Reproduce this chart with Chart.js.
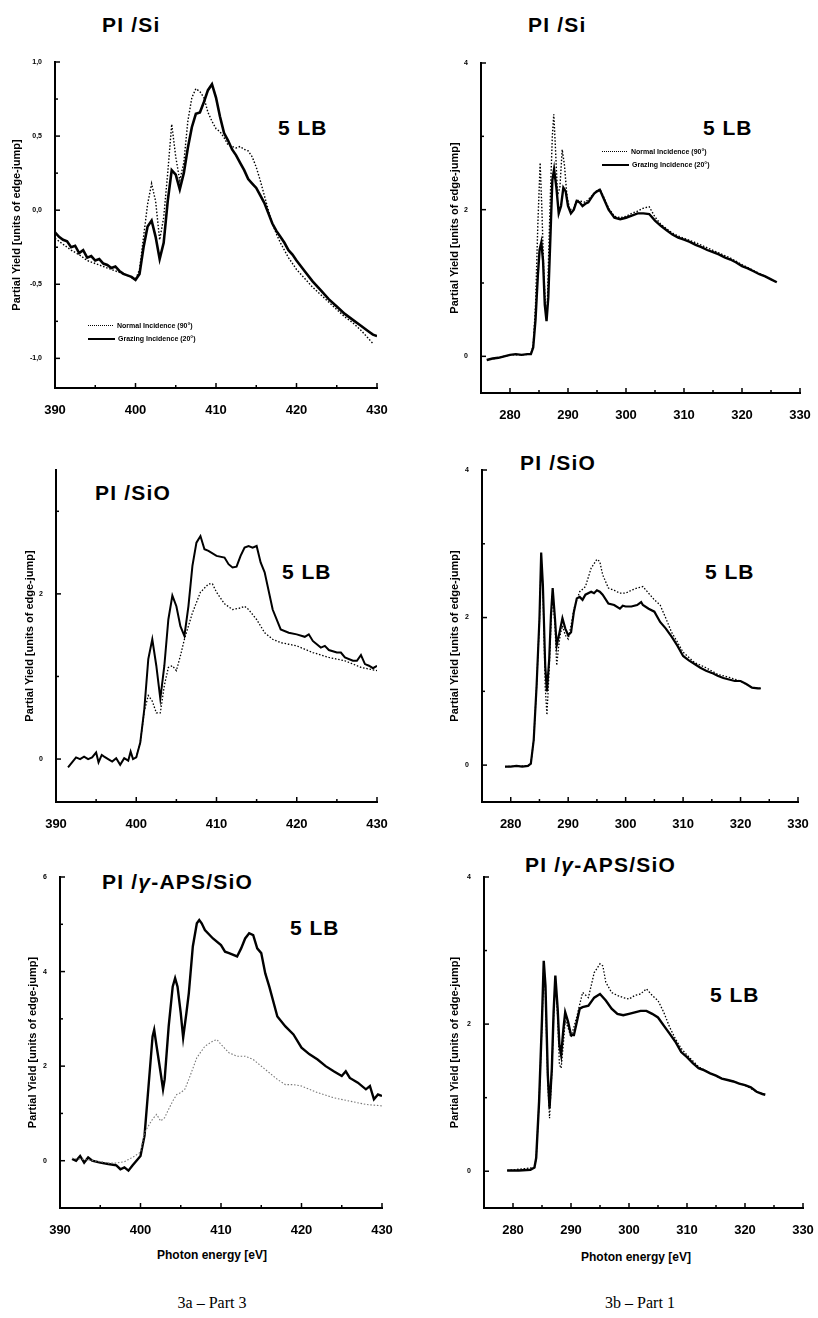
<!DOCTYPE html>
<html>
<head>
<meta charset="utf-8">
<script src="https://cdn.jsdelivr.net/npm/chart.js@4.4.0/dist/chart.umd.min.js"></script>
<style>
  body { margin: 0; background: #fff; width: 818px; height: 1318px; position: relative; overflow: hidden;
         font-family: "Liberation Sans", Arial, sans-serif; color: #000; }
  canvas { position: absolute; }
  .t { position: absolute; white-space: nowrap; line-height: 1; }
  .title { font-size: 21px; font-weight: bold; letter-spacing: 1.2px; }
  .lb { font-size: 21px; font-weight: bold; letter-spacing: 1px; }
  .xt { font-size: 12px; font-weight: bold; transform: translateX(-50%); }
  .cap { font-family: "Liberation Serif", "DejaVu Serif", serif; font-size: 16px; transform: translateX(-50%); }
  .leg { font-size: 7px; font-weight: bold; will-change: transform; }
  .leg div { height: 13px; display: flex; align-items: center; }
  .ds { display: inline-block; width: 25px; border-top: 1.5px dotted #000; margin-right: 4px; }
  .ss { display: inline-block; width: 27px; border-top: 2px solid #000; margin-right: 3px; }
</style>
</head>
<body>
<div class="t title" style="left:102px;top:14px">PI /Si</div>
<div class="t title" style="left:528px;top:14px">PI /Si</div>
<div class="t title" style="left:95px;top:482px">PI /SiO</div>
<div class="t title" style="left:520px;top:452px">PI /SiO</div>
<div class="t title" style="left:102px;top:871px">PI /<i>γ</i>-APS/SiO</div>
<div class="t title" style="left:525px;top:854px">PI /<i>γ</i>-APS/SiO</div>

<div class="t lb" style="left:278px;top:117px">5 LB</div>
<div class="t lb" style="left:703px;top:117px">5 LB</div>
<div class="t lb" style="left:282px;top:561px">5 LB</div>
<div class="t lb" style="left:705px;top:561px">5 LB</div>
<div class="t lb" style="left:290px;top:917px">5 LB</div>
<div class="t lb" style="left:710px;top:984px">5 LB</div>

<div class="t leg" style="left:88px;top:319px">
  <div><span class="ds"></span>Normal Incidence (90°)</div>
  <div><span class="ss"></span>Grazing Incidence (20°)</div>
</div>
<div class="t leg" style="left:602px;top:145px">
  <div><span class="ds"></span>Normal Incidence (90°)</div>
  <div><span class="ss"></span>Grazing Incidence (20°)</div>
</div>

<div class="t xt" style="left:212px;top:1249px">Photon energy [eV]</div>
<div class="t xt" style="left:636px;top:1251px">Photon energy [eV]</div>
<div class="t cap" style="left:212px;top:1295px">3a – Part 3</div>
<div class="t cap" style="left:640px;top:1295px">3b – Part 1</div>

<script>
// ---- data: [photon energy (eV), partial yield] ----
// left column, N K-edge region
const siNormalN = [[390,-0.19],[391,-0.23],[392,-0.27],[393,-0.30],[394,-0.34],[395,-0.36],[396,-0.38],[397,-0.40],[398,-0.42],[399,-0.44],[400,-0.47],[400.5,-0.40],[401,-0.18],[401.5,0.04],[402,0.18],[402.5,0.06],[403,-0.20],[403.5,-0.05],[404,0.25],[404.5,0.58],[405,0.36],[405.5,0.20],[406,0.32],[406.5,0.60],[407,0.76],[407.5,0.82],[408,0.80],[408.5,0.76],[409,0.66],[409.5,0.60],[410,0.55],[410.5,0.53],[411,0.49],[411.5,0.44],[412,0.43],[412.5,0.42],[413,0.43],[413.5,0.41],[414,0.40],[414.5,0.36],[415,0.29],[415.5,0.20],[416,0.10],[416.5,0.0],[417,-0.09],[417.5,-0.16],[418,-0.22],[419,-0.32],[420,-0.40],[421,-0.46],[422,-0.52],[423,-0.57],[424,-0.62],[425,-0.67],[426,-0.72],[427,-0.76],[428,-0.81],[429,-0.87],[429.5,-0.90]];
const siGrazingN = [[390,-0.15],[390.5,-0.18],[391,-0.20],[391.5,-0.21],[392,-0.25],[392.5,-0.24],[393,-0.29],[393.5,-0.27],[394,-0.32],[394.5,-0.31],[395,-0.34],[395.5,-0.33],[396,-0.36],[396.5,-0.37],[397,-0.39],[397.5,-0.38],[398,-0.41],[398.5,-0.43],[399,-0.44],[399.5,-0.45],[400,-0.47],[400.5,-0.43],[401,-0.25],[401.5,-0.11],[402,-0.07],[402.5,-0.18],[403,-0.33],[403.5,-0.22],[404,0.06],[404.5,0.27],[405,0.24],[405.5,0.14],[406,0.25],[406.5,0.42],[407,0.56],[407.5,0.65],[408,0.66],[408.5,0.73],[409,0.81],[409.5,0.85],[410,0.76],[410.5,0.63],[411,0.52],[411.5,0.47],[412,0.41],[412.5,0.37],[413,0.32],[413.5,0.27],[414,0.21],[414.5,0.18],[415,0.15],[415.5,0.10],[416,0.05],[416.5,-0.02],[417,-0.09],[417.5,-0.14],[418,-0.18],[418.5,-0.22],[419,-0.27],[419.5,-0.30],[420,-0.34],[421,-0.41],[422,-0.48],[423,-0.54],[424,-0.60],[425,-0.65],[426,-0.70],[427,-0.74],[428,-0.78],[429,-0.82],[429.5,-0.84],[430,-0.85]];

const sioNormalN = [[400,0.02],[400.5,0.2],[401,0.58],[401.5,0.77],[402,0.7],[402.5,0.56],[403,0.56],[403.5,0.89],[404,1.11],[404.5,1.13],[405,1.07],[405.5,1.25],[406,1.45],[407,1.77],[408,2.02],[409,2.12],[409.5,2.12],[410,2.02],[411,1.88],[412,1.81],[413,1.83],[413.5,1.85],[414,1.81],[415,1.69],[416,1.53],[417,1.45],[418,1.41],[419,1.39],[420,1.37],[422,1.29],[424,1.23],[426,1.19],[428,1.11],[430,1.07]];
const sioGrazingN = [[391.5,-0.1],[392,-0.04],[392.5,0.02],[393,0.0],[393.5,0.03],[394,0.0],[394.5,0.02],[395,0.08],[395.3,-0.04],[395.7,0.05],[396,0.03],[396.5,0.0],[397,-0.03],[397.5,0.01],[398,-0.07],[398.5,0.01],[399,-0.02],[399.3,0.09],[399.6,0.0],[400,0.02],[400.5,0.2],[401,0.6],[401.5,1.21],[402,1.45],[402.5,1.13],[403,0.73],[403.5,1.13],[404,1.69],[404.5,1.98],[405,1.85],[405.5,1.61],[406,1.49],[406.5,1.85],[407,2.34],[407.5,2.62],[408,2.7],[408.5,2.54],[409,2.52],[410,2.46],[411,2.44],[411.5,2.36],[412,2.32],[412.5,2.33],[413,2.46],[413.5,2.56],[414,2.58],[414.5,2.56],[415,2.58],[415.5,2.38],[416,2.26],[417,1.81],[418,1.57],[419,1.53],[420,1.51],[421,1.48],[421.5,1.51],[422,1.43],[423,1.35],[423.5,1.37],[424,1.32],[425,1.29],[425.5,1.29],[426,1.23],[427,1.19],[427.5,1.19],[428,1.26],[428.5,1.15],[429,1.13],[429.5,1.1],[430,1.13]];

const apsNormalN = [[391.5,0.05],[393,0.03],[395,-0.02],[396,-0.05],[397,-0.05],[398,-0.02],[399,0.07],[400,0.18],[400.5,0.6],[401,0.74],[401.5,0.88],[402,0.98],[402.5,0.84],[403,0.91],[403.5,1.09],[404,1.26],[404.5,1.4],[405,1.44],[405.5,1.51],[406,1.72],[407,2.18],[408,2.42],[409,2.53],[409.5,2.56],[410,2.46],[411,2.28],[412,2.21],[413,2.21],[414,2.14],[415,2.0],[416,1.86],[417,1.72],[418,1.61],[419,1.61],[420,1.58],[422,1.44],[424,1.33],[426,1.26],[428,1.19],[430,1.16]];
const apsGrazingN = [[391.5,0.04],[392,0.0],[392.5,0.1],[393,-0.04],[393.5,0.07],[394,0.0],[395,-0.04],[396,-0.07],[397,-0.1],[397.5,-0.18],[398,-0.14],[398.5,-0.21],[399,-0.1],[399.5,0.0],[400,0.1],[400.5,0.53],[401,1.58],[401.5,2.63],[401.7,2.77],[402,2.42],[402.5,1.86],[402.8,1.51],[403,1.72],[403.5,2.84],[404,3.68],[404.3,3.86],[404.6,3.68],[405,3.12],[405.3,2.6],[405.7,3.12],[406,3.54],[406.5,4.53],[407,5.02],[407.3,5.09],[407.6,5.02],[408,4.88],[409,4.7],[410,4.56],[410.5,4.42],[411,4.39],[412,4.32],[412.5,4.49],[413,4.7],[413.5,4.81],[414,4.77],[414.5,4.49],[415,4.39],[415.5,3.96],[416,3.68],[417,3.05],[418,2.84],[419,2.67],[420,2.39],[421,2.25],[422,2.14],[423,2.0],[424,1.89],[425,1.79],[425.5,1.89],[426,1.75],[427,1.65],[428,1.51],[428.5,1.58],[429,1.3],[429.5,1.4],[430,1.37]];

// right column, C K-edge region
const siNormalC = [[276,-0.05],[278,-0.02],[280,0.02],[282,0.02],[283.6,0.03],[284,0.15],[284.4,0.7],[284.8,1.8],[285.2,2.64],[285.5,2.0],[285.8,1.2],[286.1,0.7],[286.4,0.6],[286.7,1.5],[287,2.3],[287.3,3.0],[287.55,3.3],[287.8,2.9],[288.2,2.2],[288.6,2.3],[289,2.82],[289.4,2.6],[289.8,2.2],[290.3,2.0],[291,2.02],[291.5,2.13],[292,2.12],[293,2.1],[294,2.18],[295,2.26],[295.5,2.28],[296,2.2],[297,2.02],[298,1.91],[299,1.89],[300,1.91],[301,1.95],[302,1.98],[303,2.02],[304,2.04],[305,1.9],[306,1.8],[307,1.74],[308,1.68],[309,1.64],[310,1.61],[312,1.55],[314,1.48],[316,1.41],[318,1.34],[320,1.25],[322,1.17],[324,1.09],[326,1.01]];
const siGrazingC = [[276,-0.05],[277,-0.03],[278,-0.02],[279,0.0],[280,0.02],[281,0.03],[282,0.02],[283,0.03],[283.6,0.03],[284,0.12],[284.4,0.5],[284.8,1.1],[285.1,1.45],[285.4,1.55],[285.7,1.3],[286,0.7],[286.3,0.48],[286.6,0.8],[287,1.7],[287.3,2.4],[287.6,2.55],[288,2.3],[288.4,1.95],[288.8,2.05],[289.2,2.3],[289.6,2.25],[290,2.05],[290.5,1.95],[291,2.0],[291.5,2.12],[292,2.1],[292.5,2.05],[293,2.08],[293.5,2.1],[294,2.16],[294.5,2.22],[295,2.25],[295.5,2.27],[296,2.18],[297,2.0],[298,1.89],[299,1.87],[300,1.89],[301,1.92],[302,1.95],[303,1.95],[304,1.94],[305,1.85],[306,1.78],[307,1.72],[308,1.66],[309,1.62],[310,1.59],[311,1.56],[312,1.52],[313,1.49],[314,1.45],[315,1.42],[316,1.39],[317,1.35],[318,1.32],[319,1.28],[320,1.23],[321,1.2],[322,1.16],[323,1.12],[324,1.09],[325,1.05],[326,1.01]];

const sioNormalC = [[279,-0.02],[283,-0.01],[283.5,0.02],[284,0.34],[284.5,1.07],[285,1.95],[285.3,2.8],[285.6,2.4],[286,1.07],[286.3,0.68],[286.7,1.3],[287,1.89],[287.3,2.31],[287.7,1.89],[288,1.35],[288.3,1.58],[288.6,1.76],[289,1.89],[289.5,1.76],[290,1.71],[290.5,1.89],[291,2.12],[292,2.35],[293,2.42],[294,2.67],[295,2.79],[295.5,2.76],[296,2.58],[297,2.4],[298,2.37],[299,2.33],[300,2.33],[301,2.37],[302,2.4],[303,2.42],[304,2.33],[305,2.24],[306,2.17],[307,1.99],[308,1.8],[309,1.67],[310,1.53],[312,1.39],[314,1.32],[316,1.23],[318,1.19],[320,1.14],[322,1.05],[323.5,1.04]];
const sioGrazingC = [[279,-0.02],[280,-0.02],[281,-0.01],[282,-0.02],[283,-0.01],[283.5,0.02],[284,0.34],[284.5,1.07],[285,1.99],[285.3,2.88],[285.6,2.44],[286,1.35],[286.3,1.0],[286.7,1.44],[287,2.03],[287.3,2.4],[287.7,1.99],[288,1.62],[288.5,1.8],[289,1.99],[289.5,1.85],[290,1.76],[290.5,1.8],[291,2.08],[291.5,2.26],[292,2.28],[292.5,2.24],[293,2.31],[294,2.35],[294.5,2.33],[295,2.37],[295.5,2.35],[296,2.31],[297,2.19],[298,2.17],[299,2.12],[299.5,2.16],[300,2.15],[301,2.15],[302,2.17],[302.7,2.21],[303,2.17],[304,2.12],[305,2.08],[306,1.94],[307,1.85],[308,1.74],[309,1.62],[310,1.48],[311,1.42],[312,1.37],[313,1.32],[314,1.28],[315,1.25],[316,1.21],[317,1.18],[318,1.16],[319,1.14],[320,1.14],[321,1.1],[322,1.05],[323,1.04],[323.5,1.04]];

const apsNormalC = [[279,0.01],[283.7,0.05],[284,0.18],[284.5,0.95],[285,2.0],[285.3,2.8],[285.6,2.4],[286,1.2],[286.3,0.72],[286.7,1.35],[287,2.1],[287.3,2.6],[287.7,2.1],[288,1.45],[288.3,1.4],[288.7,1.75],[289,2.05],[289.5,1.95],[290,1.82],[291,2.1],[292,2.43],[293,2.36],[294,2.7],[295,2.82],[295.5,2.79],[296,2.57],[297,2.43],[298,2.39],[299,2.36],[300,2.34],[301,2.39],[302,2.41],[303,2.48],[304,2.39],[305,2.32],[306,2.16],[307,1.96],[308,1.8],[309,1.67],[310,1.58],[312,1.42],[314,1.33],[316,1.26],[318,1.22],[320,1.17],[322,1.08],[323.5,1.04]];
const apsGrazingC = [[279,0.01],[281,0.01],[283,0.02],[283.7,0.05],[284,0.18],[284.5,0.95],[285,2.07],[285.3,2.86],[285.6,2.52],[286,1.31],[286.3,0.86],[286.7,1.4],[287,2.16],[287.3,2.66],[287.7,2.21],[288,1.71],[288.3,1.58],[288.7,1.94],[289,2.16],[289.5,2.03],[290,1.85],[290.5,1.85],[291,2.03],[291.5,2.21],[292,2.23],[293,2.25],[294,2.36],[295,2.41],[296,2.32],[297,2.21],[298,2.14],[299,2.12],[300,2.14],[301,2.16],[302,2.18],[303,2.18],[304,2.14],[305,2.09],[306,1.98],[307,1.87],[308,1.76],[309,1.62],[310,1.55],[311,1.47],[312,1.4],[313,1.37],[314,1.33],[315,1.3],[316,1.26],[317,1.24],[318,1.22],[319,1.19],[320,1.17],[321,1.14],[322,1.08],[323,1.05],[323.5,1.04]];

const yTitle = 'Partial Yield [units of edge-jump]';
const FONT = '"Liberation Sans", Arial, sans-serif';

const onStep = (v, step) => Math.abs(v / step - Math.round(v / step)) < 1e-6;

// small tick marks drawn inward, like the original plot
const inTicks = {
  id: 'inTicks',
  afterDraw(chart, args, o) {
    const { ctx, chartArea: a, scales: { x, y } } = chart;
    ctx.save();
    ctx.strokeStyle = '#000';
    ctx.lineWidth = 1.5;
    x.ticks.forEach(t => {
      if (!onStep(t.value, o.xStep)) return;
      const px = x.getPixelForValue(t.value);
      const len = onStep(t.value, o.xStep * 2) ? 5 : 3;
      ctx.beginPath(); ctx.moveTo(px, a.bottom); ctx.lineTo(px, a.bottom - len); ctx.stroke();
    });
    y.ticks.forEach(t => {
      if (!onStep(t.value, o.yStep)) return;
      const py = y.getPixelForValue(t.value);
      const len = onStep(t.value, o.yLabel) ? 5 : 3;
      ctx.beginPath(); ctx.moveTo(a.left, py); ctx.lineTo(a.left + len, py); ctx.stroke();
    });
    ctx.restore();
  }
};

function solid(data, w) {
  return { data: data.map(d => ({ x: d[0], y: d[1] })), borderColor: '#000', borderWidth: w,
           pointRadius: 0, tension: 0, fill: false };
}
function dotted(data, w, color) {
  return { data: data.map(d => ({ x: d[0], y: d[1] })), borderColor: color || '#000', borderWidth: w,
           borderDash: [1.5, 1.8], pointRadius: 0, tension: 0, fill: false };
}

// box = [left, right, top, bottom] of the plot area on the page
const panels = [
  { box: [55, 377, 62, 388], x: [390, 430], y: [-1.2, 1.0], yStep: 0.25, yLabel: 0.5, comma: true, yW: 47,
    sets: [dotted(siNormalN, 1.4), solid(siGrazingN, 2.6)] },
  { box: [481, 800, 63, 393], x: [275, 330], y: [-0.5, 4], yStep: 1, yLabel: 2, yW: 35,
    sets: [dotted(siNormalC, 1.4), solid(siGrazingC, 2.4)] },
  { box: [56, 377, 470, 802], x: [390, 430], y: [-0.52, 3.5], yStep: 1, yLabel: 2, yW: 35,
    sets: [dotted(sioNormalN, 1.3), solid(sioGrazingN, 2)] },
  { box: [482, 798, 470, 802], x: [275, 330], y: [-0.5, 4], yStep: 1, yLabel: 2, yW: 36,
    sets: [dotted(sioNormalC, 1.3), solid(sioGrazingC, 2.2)] },
  { box: [60, 382, 877, 1208], x: [390, 430], y: [-1, 6], yStep: 1, yLabel: 2, yW: 36,
    sets: [dotted(apsNormalN, 1.1, '#777'), solid(apsGrazingN, 2.4)] },
  { box: [484, 803, 877, 1208], x: [275, 330], y: [-0.5, 4], yStep: 1, yLabel: 2, yW: 38,
    sets: [dotted(apsNormalC, 1.3), solid(apsGrazingC, 2.4)] }
];

function makePanel(p) {
  const padTop = 20, padRight = 24, xH = 30;
  const [l, r, t, b] = p.box;
  const w = p.yW + (r - l) + padRight, h = padTop + (b - t) + xH;
  const cv = document.createElement('canvas');
  cv.width = w; cv.height = h;
  cv.style.width = w + 'px'; cv.style.height = h + 'px';
  cv.style.left = (l - p.yW) + 'px'; cv.style.top = (t - padTop) + 'px';
  document.body.appendChild(cv);

  new Chart(cv, {
    type: 'line',
    data: { datasets: p.sets },
    options: {
      responsive: false,
      animation: false,
      layout: { padding: { top: padTop, right: padRight, left: 0, bottom: 0 } },
      plugins: {
        legend: { display: false },
        tooltip: { enabled: false },
        inTicks: { xStep: 5, yStep: p.yStep, yLabel: p.yLabel }
      },
      scales: {
        x: {
          type: 'linear', min: p.x[0], max: p.x[1],
          afterFit: s => { s.height = xH; },
          grid: { display: false },
          border: { display: true, color: '#000', width: 2 },
          ticks: {
            stepSize: 5, autoSkip: false, maxRotation: 0, padding: 7, color: '#000',
            font: { family: FONT, size: 13, weight: 'bold' },
            callback: v => onStep(v, 10) ? String(v) : ''
          }
        },
        y: {
          type: 'linear', min: p.y[0], max: p.y[1],
          afterFit: s => { s.width = p.yW; },
          grid: { display: false },
          border: { display: true, color: '#000', width: 2 },
          ticks: {
            stepSize: p.yStep, autoSkip: false, padding: 5, color: '#000',
            font: { family: FONT, size: 7, weight: 'bold' },
            callback: v => {
              if (!onStep(v, p.yLabel)) return '';
              return p.comma ? v.toFixed(1).replace('.', ',') : String(Math.round(v));
            }
          },
          title: {
            display: true, text: yTitle, color: '#000', padding: { top: 2, bottom: 0 },
            font: { family: FONT, size: 11, weight: 'bold' }
          }
        }
      }
    },
    plugins: [inTicks]
  });
}

panels.forEach(makePanel);
</script>
</body>
</html>
